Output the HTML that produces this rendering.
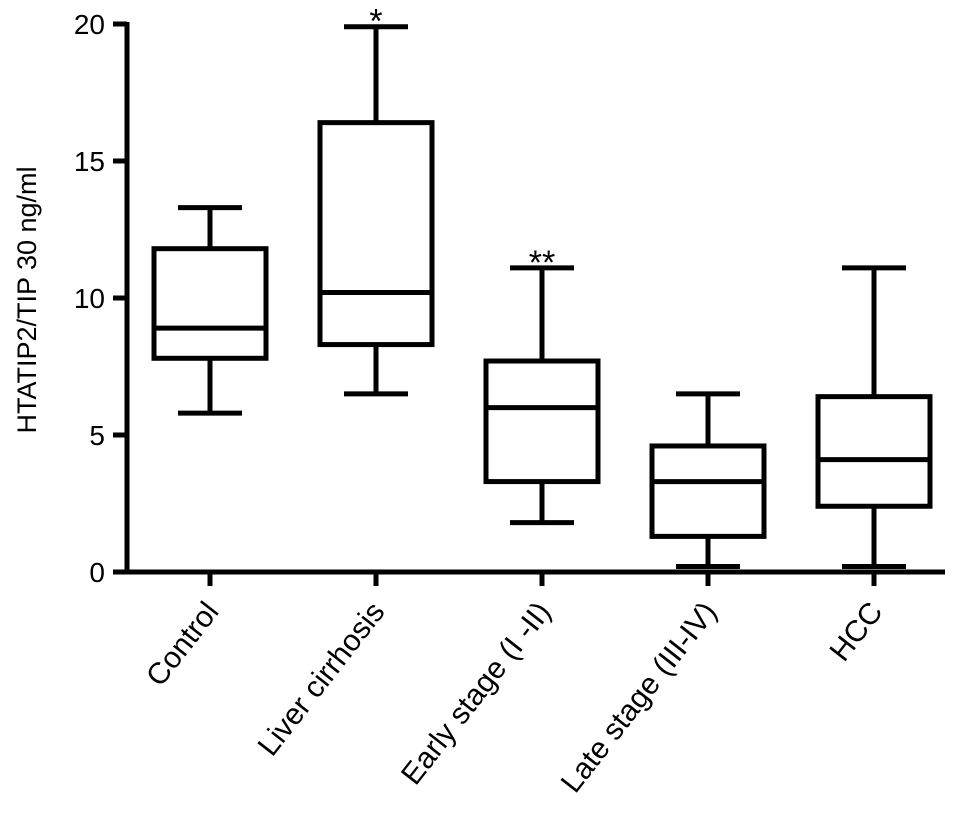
<!DOCTYPE html>
<html><head><meta charset="utf-8"><style>
html,body{margin:0;padding:0;background:#fff;}
svg text{font-family:"Liberation Sans",Arial,sans-serif;fill:#000;}
</style></head><body>
<svg id="chart" width="970" height="814" viewBox="0 0 970 814" xmlns="http://www.w3.org/2000/svg"></svg>
<script>
const categories=["Control","Liver cirrhosis","Early stage (I -II)","Late stage (III-IV)","HCC"];
const maxVals=[13.3,19.9,11.1,6.5,11.1];
const q3Vals=[11.8,16.4,7.7,4.6,6.4];
const medianVals=[8.9,10.2,6.0,3.3,4.1];
const q1Vals=[7.8,8.3,3.3,1.3,2.4];
const minVals=[5.8,6.5,1.8,0.2,0.2];
const sigLabels=["","*","**","",""];
const yTicks=[0,5,10,15,20];

const svg=document.getElementById('chart');
const NS="http://www.w3.org/2000/svg";
const x0=127,x1=945,yBase=572,yTop=24;
function y(v){return yBase-(v/20)*(yBase-yTop);}
function xc(i){return 210+i*166;}
function mk(tag,attrs,name,parent){const e=document.createElementNS(NS,tag);for(const k in attrs)e.setAttribute(k,attrs[k]);


(parent||svg).appendChild(e);return e;}
const S={stroke:'#000','stroke-width':5,fill:'none'};
mk('line',Object.assign({x1:x0,y1:yTop-2,x2:x0,y2:yBase+2},S),'y-axis');
mk('line',Object.assign({x1:x0-2,y1:yBase,x2:x1,y2:yBase},S),'x-axis');
yTicks.forEach(t=>{
 mk('line',Object.assign({x1:x0-14,y1:y(t),x2:x0,y2:y(t)},S),'y-tick');
 const tx=mk('text',{x:x0-22,y:y(t)+10,'text-anchor':'end','font-size':28},'y-tick-label');tx.textContent=t;
});
const yt=mk('text',{x:0,y:0,'text-anchor':'middle','font-size':27,transform:'translate(36,300) rotate(-90)'},'y-axis-title');
yt.textContent='HTATIP2/TIP 30 ng/ml';
categories.forEach((c,i)=>{
 const cx=xc(i),hw=56,cw=32;
 const g=mk('g',{},'box-'+c.toLowerCase().replace(/[^a-z0-9]+/g,'-'));
 mk('line',Object.assign({x1:cx,y1:y(maxVals[i]),x2:cx,y2:y(q3Vals[i])},S),'upper-whisker',g);
 mk('line',Object.assign({x1:cx,y1:y(q1Vals[i]),x2:cx,y2:y(minVals[i])},S),'lower-whisker',g);
 mk('line',Object.assign({x1:cx-cw,y1:y(maxVals[i]),x2:cx+cw,y2:y(maxVals[i])},S),'max-cap',g);
 mk('line',Object.assign({x1:cx-cw,y1:y(minVals[i]),x2:cx+cw,y2:y(minVals[i])},S),'min-cap',g);
 mk('rect',Object.assign({x:cx-hw,y:y(q3Vals[i]),width:hw*2,height:y(q1Vals[i])-y(q3Vals[i])},S),'iqr-box',g);
 mk('line',Object.assign({x1:cx-hw,y1:y(medianVals[i]),x2:cx+hw,y2:y(medianVals[i])},S),'median-line',g);
 mk('line',Object.assign({x1:cx,y1:yBase,x2:cx,y2:yBase+14},S),'x-tick');
 const lt=mk('text',{x:0,y:0,'text-anchor':'end','font-size':30,transform:`translate(${cx+10},${yBase+40}) rotate(-52)`},'x-tick-label');
 lt.textContent=c;
 if(sigLabels[i]){const s=mk('text',{x:cx,y:y(maxVals[i])+6,'text-anchor':'middle','font-size':34,fill:'#333'},'significance-marker');s.textContent=sigLabels[i];}
});
</script>
</body></html>
